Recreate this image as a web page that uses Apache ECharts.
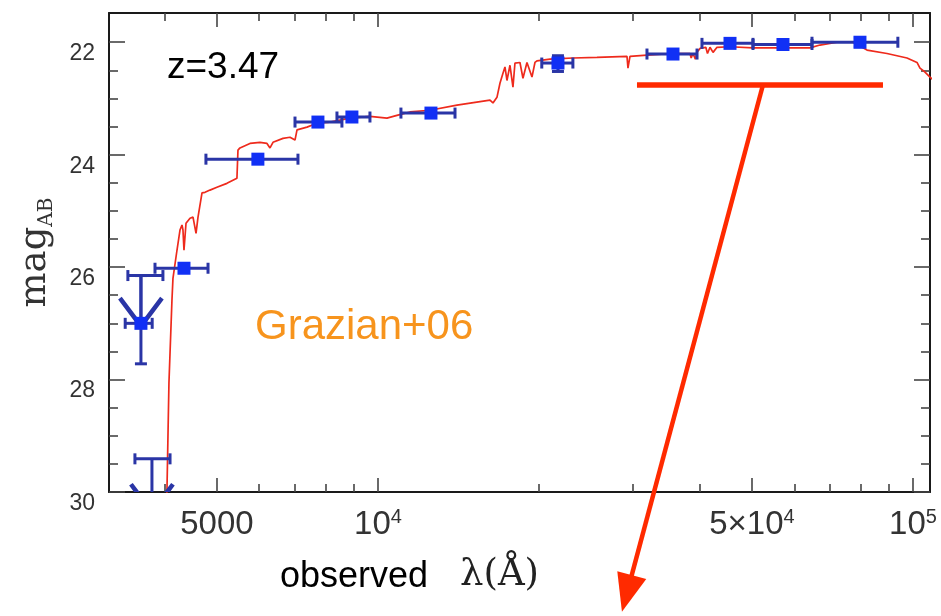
<!DOCTYPE html>
<html><head><meta charset="utf-8">
<script src="https://cdn.jsdelivr.net/npm/echarts@6/dist/echarts.min.js"></script>
<style>html,body{margin:0;padding:0;background:#fff}#c{width:941px;height:616px}</style>
</head><body><div id="c"></div>
<script>
// ---- SED model (observed wavelength in Angstrom, AB magnitude) ----
const sedLam = [3990, 4033, 4068, 4121, 4139, 4211, 4266, 4303, 4321, 4340, 4378, 4454, 4512, 4571, 4610, 4690, 4751, 4854, 5001, 5221, 5451, 5475, 5522, 5765, 6019, 6203, 6284, 6366, 6646, 6849, 6998, 7059, 7369, 7693, 8133, 8864, 9662, 10395, 10852, 11476, 12507, 14052, 16195, 16405, 16690, 16907, 17127, 17275, 17424, 17651, 17880, 18034, 18426, 18666, 18990, 19403, 19655, 19825, 20970, 21704, 21800, 21900, 23145, 25664, 29204, 29330, 29584, 31829, 35594, 38305, 38500, 38800, 39200, 39476, 39988, 41000, 41300, 41745, 42300, 43022, 45499, 50226, 56431, 64175, 67003, 72112, 75289, 77259, 82052, 89407, 97456, 101745, 103060, 105300, 107590, 110000];
const sedMag = [31.0, 30.0, 28.06, 26.59, 26.20, 25.70, 25.34, 25.25, 25.34, 25.70, 25.22, 25.13, 25.11, 25.40, 25.11, 24.68, 24.67, 24.63, 24.58, 24.51, 24.42, 23.92, 23.88, 23.80, 23.78, 23.80, 23.88, 23.78, 23.71, 23.69, 23.74, 23.56, 23.51, 23.44, 23.42, 23.35, 23.32, 23.35, 23.30, 23.24, 23.21, 23.12, 23.03, 23.08, 22.98, 22.73, 22.55, 22.44, 22.68, 22.41, 22.80, 22.37, 22.36, 22.64, 22.36, 22.62, 22.36, 22.33, 22.30, 22.29, 22.48, 22.29, 22.28, 22.27, 22.25, 22.46, 22.25, 22.23, 22.20, 22.20, 22.28, 22.20, 22.30, 22.18, 22.11, 22.09, 22.20, 22.09, 22.18, 22.09, 22.08, 22.10, 22.10, 22.10, 22.05, 22.00, 22.00, 22.00, 22.14, 22.20, 22.28, 22.36, 22.46, 22.53, 22.62, 22.70];

// ---- photometric points ----
const bandLam = [3606, 4340, 5965, 7724, 8940, 12563, 21700, 35600, 45500, 57150, 79600];
const bandLo  = [3370, 3831, 4770, 6998, 8383, 11040, 20240, 31830, 40330, 50230, 64750];
const bandHi  = [3785, 4813, 7088, 8564, 9662, 13933, 23140, 39480, 50230, 64750, 93700];
const bandMag = [27.00, 26.02, 24.08, 23.42, 23.33, 23.26, 22.37, 22.21, 22.02, 22.04, 22.00];
const bandMagUp = [26.15, 26.02, 24.08, 23.42, 23.33, 23.26, 22.24, 22.21, 22.02, 22.04, 21.92];
const bandMagDn = [27.72, 26.02, 24.08, 23.42, 23.33, 23.26, 22.52, 22.21, 22.02, 22.04, 22.08];

// ---- upper limits ----
const limLam = [3606, 3781];
const limLo  = [3409, 3514];
const limHi  = [3964, 4087];
const limMag = [26.15, 29.41];
const limTip = [27.05, 30.36];

// ---- annotation (red bar + arrow) ----
const annoBarLam = [30490, 87890];
const annoBarMag = 22.76;
const annoArrowLam = [52430, 28580];
const annoArrowMag = [22.76, 32.13];

// ---- axes ----
const xMin = 3143, xMax = 107600;
const yMin = 21.48, yMax = 30;
const xMajor = [5000, 10000, 50000, 100000];
const xMajorText = ['{n|5000}', '{n|10}{s|4}', '{n|5×10}{s|4}', '{n|10}{s|5}'];
const xMinor = [4000, 6000, 7000, 8000, 9000, 20000, 30000, 40000, 60000, 70000, 80000, 90000];
const yMajor = [22, 24, 26, 28, 30];
const yMinor = [22.5, 23, 23.5, 24.5, 25, 25.5, 26.5, 27, 27.5, 28.5, 29, 29.5];

const AX = '#1a1a1a', TXT = '#333';
const ERR = '#2a35a6', SQ = '#1130f5', RED = '#ee2a1c', ANN = '#ff2a00';

function xAx(pos, vals, len, line, labels) {
  return {
    type: 'log', position: pos, min: xMin, max: xMax, logBase: 10,
    axisLine: {show: line, onZero: false, lineStyle: {color: AX, width: 2}},
    axisTick: {show: true, inside: true, length: len, customValues: vals, lineStyle: {color: '#444', width: 1.6}},
    axisLabel: labels ? {
      show: true, customValues: xMajor, margin: 15, color: TXT,
      fontFamily: 'Liberation Sans, Arial, sans-serif',
      formatter: function (v) {
        let best = 0;
        for (let i = 1; i < xMajor.length; i++) if (Math.abs(Math.log(v / xMajor[i])) < Math.abs(Math.log(v / xMajor[best]))) best = i;
        return xMajorText[best];
      },
      rich: {
        n: {fontSize: 33, lineHeight: 36, color: TXT, fontFamily: 'Liberation Sans, Arial, sans-serif'},
        s: {fontSize: 20, lineHeight: 20, verticalAlign: 'top', color: TXT, fontFamily: 'Liberation Sans, Arial, sans-serif'}
      }
    } : {show: false},
    splitLine: {show: false}, minorTick: {show: false}
  };
}
function yAx(pos, vals, len, line, labels) {
  return {
    type: 'value', position: pos, min: yMin, max: yMax, inverse: true,
    axisLine: {show: line, onZero: false, lineStyle: {color: AX, width: 2}},
    axisTick: {show: true, inside: true, length: len, customValues: vals, lineStyle: {color: '#444', width: 1.6}},
    axisLabel: labels ? {show: true, customValues: yMajor, margin: 14, color: TXT, fontSize: 23,
      verticalAlign: 'top', fontFamily: 'Liberation Sans, Arial, sans-serif'} : {show: false},
    splitLine: {show: false}
  };
}

const xAxes = [xAx('bottom', xMajor, 14, true, true), xAx('bottom', xMinor, 8, false, false),
               xAx('top', xMajor, 14, true, false), xAx('top', xMinor, 8, false, false)];
const yAxes = [yAx('left', yMajor, 16, true, true), yAx('left', yMinor, 9, false, false),
               yAx('right', yMajor, 16, true, false), yAx('right', yMinor, 9, false, false)];
yAxes[0].name = '{m|mag}{s|AB}';
yAxes[0].nameLocation = 'middle';
yAxes[0].nameRotate = 90;
yAxes[0].nameGap = 52;
yAxes[0].nameTextStyle = {
  rich: {
    m: {fontSize: 37, lineHeight: 44, color: '#333', fontFamily: 'DejaVu Serif, Liberation Serif, serif'},
    s: {fontSize: 20, lineHeight: 20, verticalAlign: 'bottom', color: '#333', fontFamily: 'DejaVu Serif, Liberation Serif, serif'}
  }
};

const sedData = sedLam.map((l, i) => [l, sedMag[i]]);
const errData = bandLam.map((l, i) => [l, bandMag[i], bandLo[i], bandHi[i], bandMagUp[i], bandMagDn[i]]);
const sqData = bandLam.map((l, i) => [l, bandMag[i]]);
const limData = limLam.map((l, i) => [l, limMag[i], limLo[i], limHi[i], limTip[i]]);

function errItem(params, api) {
  const x = api.value(0), y = api.value(1);
  const l = api.coord([api.value(2), y]), r = api.coord([api.value(3), y]);
  const u = api.coord([x, api.value(4)]), d = api.coord([x, api.value(5)]);
  const st = {stroke: ERR, lineWidth: 3};
  const ch = [
    {type: 'line', shape: {x1: l[0], y1: l[1], x2: r[0], y2: r[1]}, style: st},
    {type: 'line', shape: {x1: l[0], y1: l[1] - 5.5, x2: l[0], y2: l[1] + 5.5}, style: st},
    {type: 'line', shape: {x1: r[0], y1: r[1] - 5.5, x2: r[0], y2: r[1] + 5.5}, style: st}
  ];
  if (Math.abs(u[1] - d[1]) > 1) {
    ch.push({type: 'line', shape: {x1: u[0], y1: u[1], x2: d[0], y2: d[1]}, style: st});
    ch.push({type: 'line', shape: {x1: d[0] - 6, y1: d[1], x2: d[0] + 6, y2: d[1]}, style: st});
    ch.push({type: 'line', shape: {x1: u[0] - 6, y1: u[1], x2: u[0] + 6, y2: u[1]}, style: st});
  }
  return {type: 'group', children: ch};
}
function limItem(params, api) {
  const x = api.value(0), y = api.value(1);
  const p = api.coord([x, y]);
  const l = api.coord([api.value(2), y]), r = api.coord([api.value(3), y]);
  const t = api.coord([x, api.value(4)]);
  const st = {stroke: ERR, lineWidth: 3};
  const hw = 21, hh = 28;
  return {type: 'group', children: [
    {type: 'line', shape: {x1: l[0], y1: l[1], x2: r[0], y2: r[1]}, style: st},
    {type: 'line', shape: {x1: l[0], y1: l[1] - 5.5, x2: l[0], y2: l[1] + 5.5}, style: st},
    {type: 'line', shape: {x1: r[0], y1: r[1] - 5.5, x2: r[0], y2: r[1] + 5.5}, style: st},
    {type: 'line', shape: {x1: p[0], y1: p[1], x2: t[0], y2: t[1]}, style: st},
    {type: 'polyline', shape: {points: [[t[0] - hw, t[1] - hh], [t[0], t[1]], [t[0] + hw, t[1] - hh]]}, style: {stroke: ERR, lineWidth: 4.5, fill: null}}
  ]};
}
function annoItem(params, api) {
  const b0 = api.coord([annoBarLam[0], annoBarMag]), b1 = api.coord([annoBarLam[1], annoBarMag]);
  const a0 = api.coord([annoArrowLam[0], annoArrowMag[0]]), a1 = api.coord([annoArrowLam[1], annoArrowMag[1]]);
  const dx = a1[0] - a0[0], dy = a1[1] - a0[1], L = Math.sqrt(dx * dx + dy * dy);
  const ux = dx / L, uy = dy / L, hl = 38, hw = 15;
  const bx = a1[0] - ux * hl, by = a1[1] - uy * hl;
  return {type: 'group', children: [
    {type: 'line', shape: {x1: b0[0], y1: b0[1], x2: b1[0], y2: b1[1]}, style: {stroke: ANN, lineWidth: 5.5}},
    {type: 'line', shape: {x1: a0[0], y1: a0[1], x2: bx + ux * 4, y2: by + uy * 4}, style: {stroke: ANN, lineWidth: 4.5}},
    {type: 'polygon', shape: {points: [[a1[0], a1[1]], [bx - uy * hw, by + ux * hw], [bx + uy * hw, by - ux * hw]]}, style: {fill: ANN}}
  ]};
}

const chart = echarts.init(document.getElementById('c'), null, {renderer: 'canvas'});
chart.setOption({
  animation: false,
  backgroundColor: '#fff',
  grid: {left: 109, right: 11, top: 13, bottom: 124, containLabel: false},
  xAxis: xAxes,
  yAxis: yAxes,
  series: [
    {type: 'line', data: sedData, showSymbol: false, symbol: 'none', lineStyle: {color: RED, width: 1.7}, clip: true, z: 2},
    {type: 'custom', data: errData, renderItem: errItem, clip: true, z: 3, encode: {x: 0, y: 1}},
    {type: 'custom', data: limData, renderItem: limItem, clip: true, z: 3, encode: {x: 0, y: 1}},
    {type: 'scatter', data: sqData, symbol: 'rect', symbolSize: 13, itemStyle: {color: SQ, opacity: 1}, z: 4},
    {type: 'custom', data: [[annoArrowLam[0], annoArrowMag[0]]], renderItem: annoItem, clip: false, z: 5, encode: {x: 0, y: 1}}
  ],
  graphic: [
    {type: 'text', left: 167, top: 49, style: {text: 'z=3.47', font: '37px "Liberation Sans", Arial, sans-serif', fill: '#000'}},
    {type: 'text', left: 255, top: 306, style: {text: 'Grazian+06', font: '42px "Liberation Sans", Arial, sans-serif', fill: '#f7941d'}},
    {type: 'text', left: 280, top: 559, style: {text: 'observed', font: '36px "Liberation Sans", Arial, sans-serif', fill: '#000'}},
    {type: 'text', left: 460, top: 557, style: {text: 'λ(Å)', font: '37px "DejaVu Serif", "Liberation Serif", serif', fill: '#222'}}
  ]
});
</script></body></html>
